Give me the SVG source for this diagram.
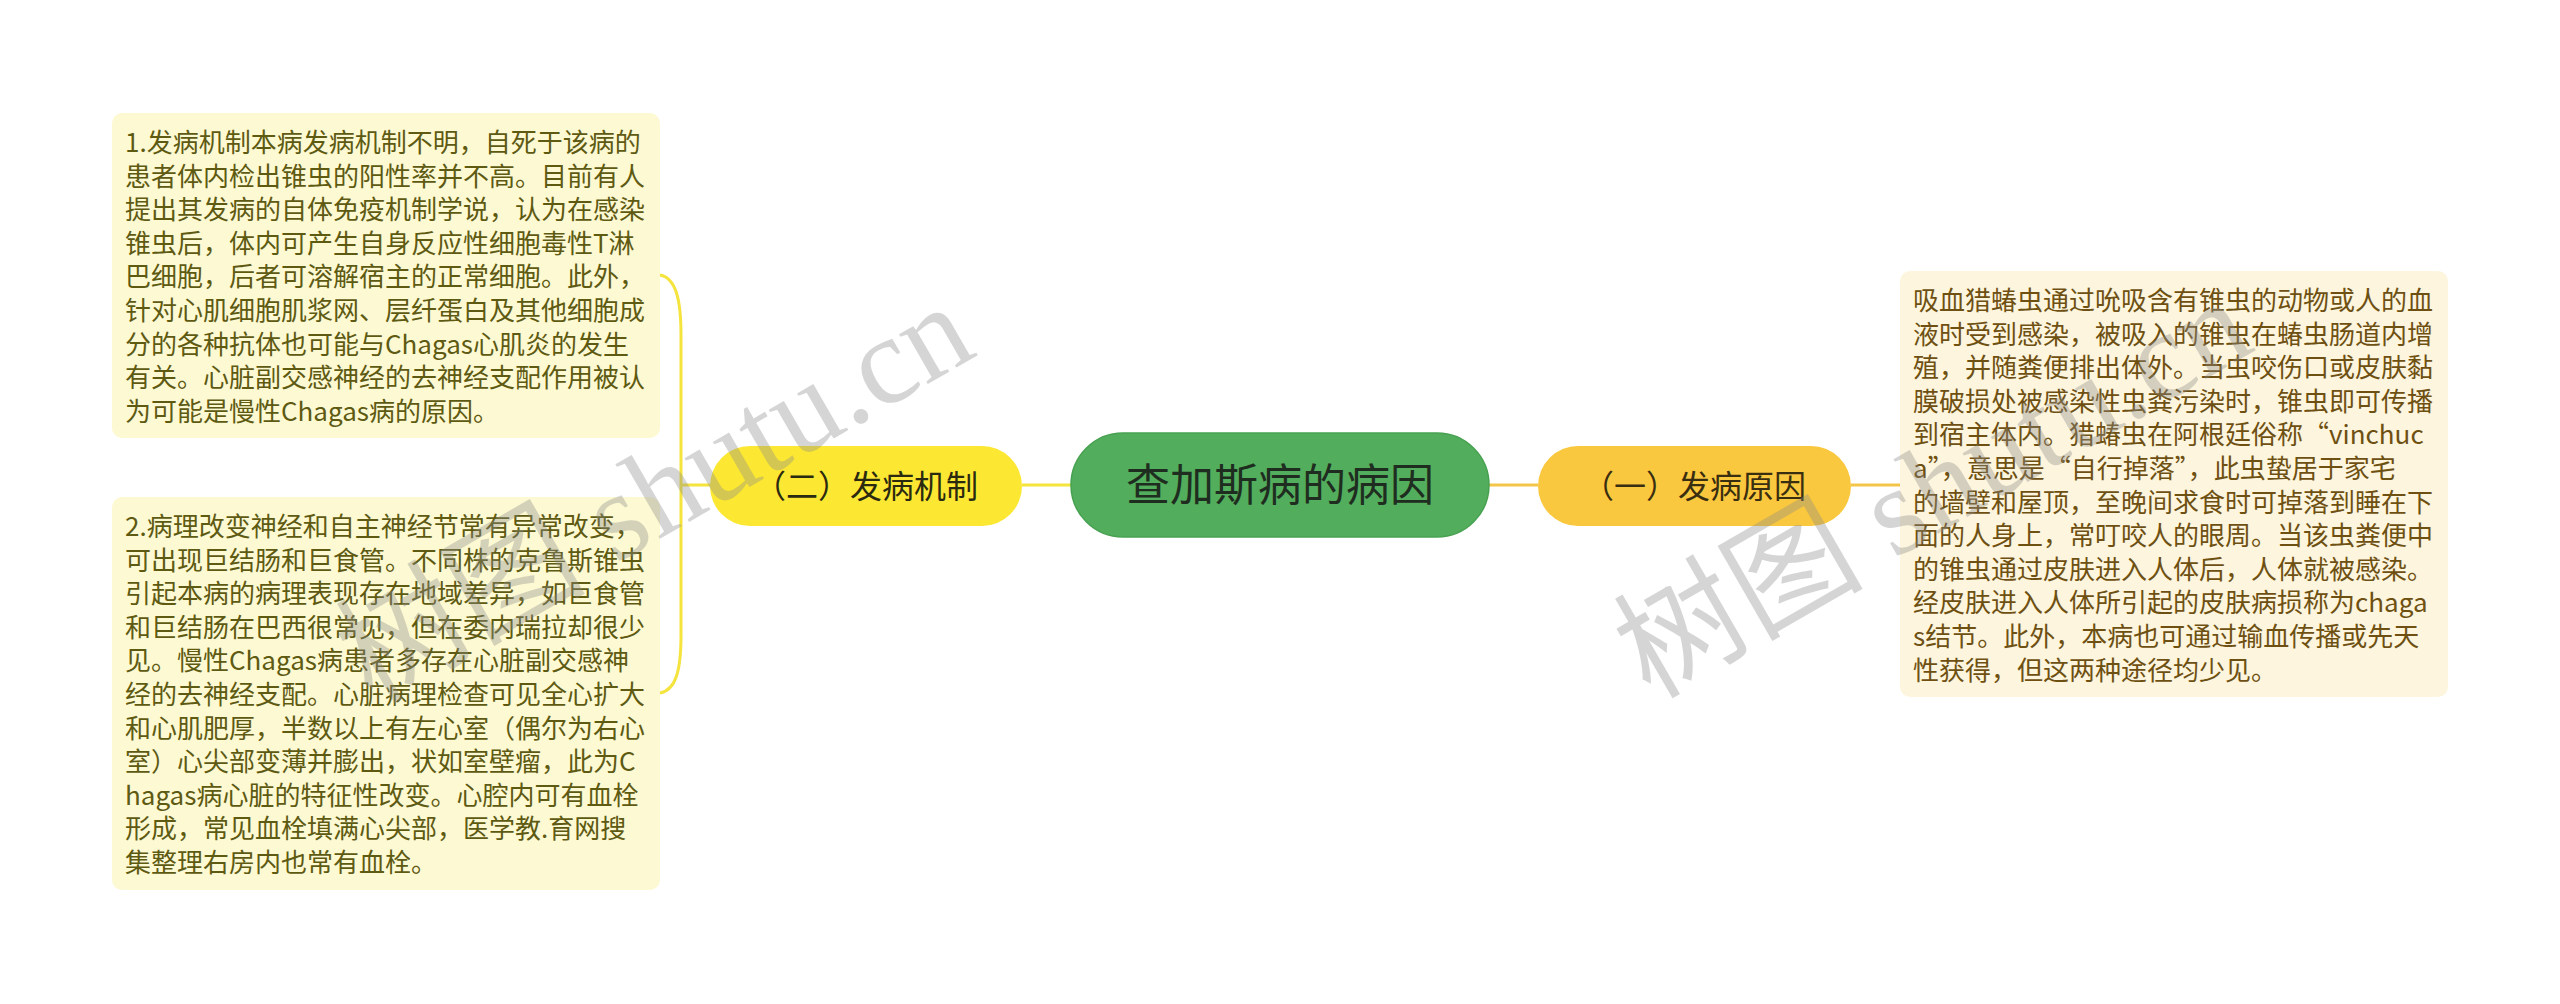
<svg xmlns="http://www.w3.org/2000/svg" width="2560" height="1004" viewBox="0 0 2560 1004">
<style>
  .leaf-l { fill: #FDF9D3; }
  .leaf-r { fill: #FDF5DD; }
  .tl { font-family: "Noto Sans CJK SC", "Noto Sans", sans-serif; font-size: 26px; fill: #5E5A12; }
  .tr { font-family: "Noto Sans CJK SC", "Noto Sans", sans-serif; font-size: 26px; fill: #6E5012; }
  .node-t { font-family: "Noto Sans CJK SC", "Noto Sans", sans-serif; font-size: 32px; text-anchor: middle; }
  .conn-y { fill: none; stroke: #F5E33E; stroke-width: 3; }
  .conn-o { fill: none; stroke: #F3C548; stroke-width: 3; }
  .wm { font-family: "Liberation Serif", "Noto Sans CJK SC", serif; font-size: 125px; fill: #8a8a8a; fill-opacity: 0.36; }
</style>
<rect width="2560" height="1004" fill="#FFFFFF"/>
<g id="connectors">
  <path class="conn-y" d="M1071 485 L1022 485"/>
  <path class="conn-y" d="M710 485 L681 485"/>
  <path class="conn-y" d="M681 485 L681 335 C681 300 676 278 660 275"/>
  <path class="conn-y" d="M681 485 L681 635 C681 670 676 690 660 693"/>
  <path class="conn-o" d="M1489 485 L1538 485"/>
  <path class="conn-o" d="M1851 485 L1900 485"/>
</g>
<g id="node-root">
  <rect x="1071" y="433" width="418" height="104" rx="52" fill="#52AE5C" stroke="#47A150" stroke-width="1.5"/>
  <text x="1280" y="501" font-family="Noto Sans CJK SC, Noto Sans, sans-serif" font-size="44" text-anchor="middle" fill="#1F2D20">查加斯病的病因</text>
</g>
<g id="node-mech">
  <rect x="710" y="446" width="312" height="80" rx="40" fill="#FCE832"/>
  <text class="node-t" x="866" y="498" fill="#2B2A10">（二）发病机制</text>
</g>
<g id="node-cause">
  <rect x="1538" y="446" width="313" height="80" rx="40" fill="#FAC83E"/>
  <text class="node-t" x="1694" y="498" fill="#3A2E10">（一）发病原因</text>
</g>
<g id="leaf-mech-1">
  <rect class="leaf-l" x="112" y="113" width="548" height="325" rx="10"/>
  <text class="tl">
    <tspan x="125" y="152">1.发病机制本病发病机制不明，自死于该病的</tspan>
    <tspan x="125" y="185.6">患者体内检出锥虫的阳性率并不高。目前有人</tspan>
    <tspan x="125" y="219.2">提出其发病的自体免疫机制学说，认为在感染</tspan>
    <tspan x="125" y="252.8">锥虫后，体内可产生自身反应性细胞毒性T淋</tspan>
    <tspan x="125" y="286.4">巴细胞，后者可溶解宿主的正常细胞。此外，</tspan>
    <tspan x="125" y="320">针对心肌细胞肌浆网、层纤蛋白及其他细胞成</tspan>
    <tspan x="125" y="353.6">分的各种抗体也可能与Chagas心肌炎的发生</tspan>
    <tspan x="125" y="387.2">有关。心脏副交感神经的去神经支配作用被认</tspan>
    <tspan x="125" y="420.8">为可能是慢性Chagas病的原因。</tspan>
  </text>
</g>
<g id="leaf-mech-2">
  <rect class="leaf-l" x="112" y="497" width="548" height="393" rx="10"/>
  <text class="tl">
    <tspan x="125" y="536">2.病理改变神经和自主神经节常有异常改变，</tspan>
    <tspan x="125" y="569.6">可出现巨结肠和巨食管。不同株的克鲁斯锥虫</tspan>
    <tspan x="125" y="603.2">引起本病的病理表现存在地域差异，如巨食管</tspan>
    <tspan x="125" y="636.8">和巨结肠在巴西很常见，但在委内瑞拉却很少</tspan>
    <tspan x="125" y="670.4">见。慢性Chagas病患者多存在心脏副交感神</tspan>
    <tspan x="125" y="704">经的去神经支配。心脏病理检查可见全心扩大</tspan>
    <tspan x="125" y="737.6">和心肌肥厚，半数以上有左心室（偶尔为右心</tspan>
    <tspan x="125" y="771.2">室）心尖部变薄并膨出，状如室壁瘤，此为C</tspan>
    <tspan x="125" y="804.8">hagas病心脏的特征性改变。心腔内可有血栓</tspan>
    <tspan x="125" y="838.4">形成，常见血栓填满心尖部，医学教.育网搜</tspan>
    <tspan x="125" y="872">集整理右房内也常有血栓。</tspan>
  </text>
</g>
<g id="leaf-cause">
  <rect class="leaf-r" x="1900" y="271" width="548" height="426" rx="10"/>
  <text class="tr">
    <tspan x="1913" y="310">吸血猎蝽虫通过吮吸含有锥虫的动物或人的血</tspan>
    <tspan x="1913" y="343.6">液时受到感染，被吸入的锥虫在蝽虫肠道内增</tspan>
    <tspan x="1913" y="377.2">殖，并随粪便排出体外。当虫咬伤口或皮肤黏</tspan>
    <tspan x="1913" y="410.8">膜破损处被感染性虫粪污染时，锥虫即可传播</tspan>
    <tspan x="1913" y="444.4">到宿主体内。猎蝽虫在阿根廷俗称“vinchuc</tspan>
    <tspan x="1913" y="478">a”，意思是“自行掉落”，此虫蛰居于家宅</tspan>
    <tspan x="1913" y="511.6">的墙壁和屋顶，至晚间求食时可掉落到睡在下</tspan>
    <tspan x="1913" y="545.2">面的人身上，常叮咬人的眼周。当该虫粪便中</tspan>
    <tspan x="1913" y="578.8">的锥虫通过皮肤进入人体后，人体就被感染。</tspan>
    <tspan x="1913" y="612.4">经皮肤进入人体所引起的皮肤病损称为chaga</tspan>
    <tspan x="1913" y="646">s结节。此外，本病也可通过输血传播或先天</tspan>
    <tspan x="1913" y="679.6">性获得，但这两种途径均少见。</tspan>
  </text>
</g>
<g id="watermarks">
  <text class="wm" transform="translate(372,705) rotate(-30)">树图 shutu.cn</text>
  <text class="wm" transform="translate(1650,700) rotate(-30)">树图 shutu.cn</text>
</g>
</svg>
